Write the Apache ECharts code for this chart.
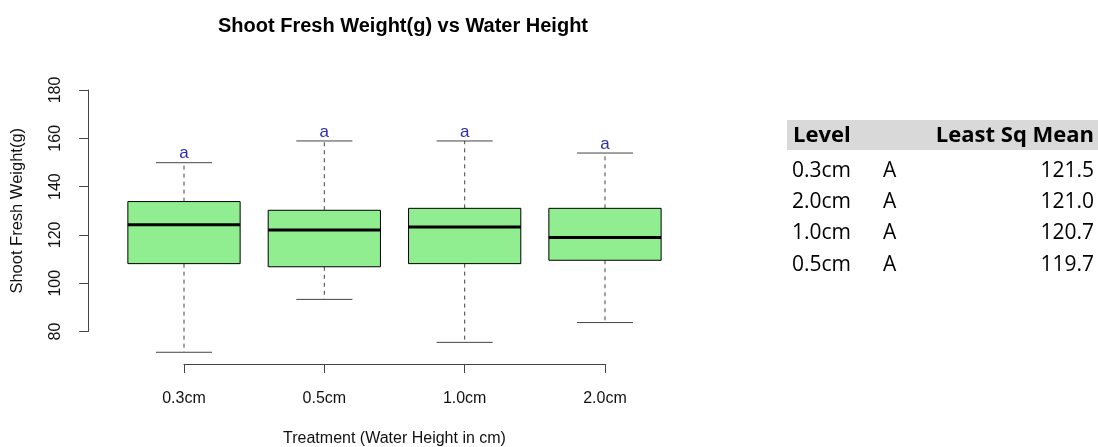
<!DOCTYPE html>
<html><head><meta charset="utf-8">
<script src="https://cdn.jsdelivr.net/npm/echarts@6/dist/echarts.min.js"></script>
<style>html,body{margin:0;padding:0;background:#fff}#c{width:1098px;height:447px}</style>
</head><body><div id="c"></div>
<script>
const categories = ['0.3cm', '0.5cm', '1.0cm', '2.0cm'];
const whiskerLow = [71.4, 93.3, 75.5, 83.7];
const q1 = [108.1, 106.8, 108.1, 109.5];
const median = [124.2, 122.0, 123.3, 118.9];
const q3 = [133.8, 130.2, 131.0, 131.0];
const whiskerHigh = [149.9, 158.9, 158.9, 153.9];
const groupLetters = ['a', 'a', 'a', 'a'];
const yMin = 80, yMax = 180, yStep = 20;
const tableHeader = ['Level', 'Least Sq Mean'];
const tableLevels = ['0.3cm', '2.0cm', '1.0cm', '0.5cm'];
const tableGroups = ['A', 'A', 'A', 'A'];
const tableMeans = ['121.5', '121.0', '120.7', '119.7'];

const boxData = categories.map((c, i) => [i, whiskerLow[i], q1[i], median[i], q3[i], whiskerHigh[i]]);

const AX = '#444';
const FONT = 'Liberation Sans, Arial, sans-serif';
const TFONT = 'Open Sans, Noto Sans, sans-serif';

const tableGraphics = [];
tableGraphics.push({type: 'rect', shape: {x: 787, y: 120, width: 311, height: 30}, style: {fill: '#d9d9d9'}, silent: true});
tableGraphics.push({type: 'text', x: 793, y: 136, style: {text: tableHeader[0], font: 'bold 22px ' + TFONT, fill: '#000', textAlign: 'left', textVerticalAlign: 'middle'}});
tableGraphics.push({type: 'text', x: 1094, y: 136, style: {text: tableHeader[1], font: 'bold 22px ' + TFONT, fill: '#000', textAlign: 'right', textVerticalAlign: 'middle'}});
tableLevels.forEach((lv, i) => {
  const y = 171 + i * 31.2;
  tableGraphics.push({type: 'text', x: 792, y: y, style: {text: lv, font: '21px ' + TFONT, fill: '#000', textAlign: 'left', textVerticalAlign: 'middle'}});
  tableGraphics.push({type: 'text', x: 883, y: y, style: {text: tableGroups[i], font: '21px ' + TFONT, fill: '#000', textAlign: 'left', textVerticalAlign: 'middle'}});
  tableGraphics.push({type: 'text', x: 1094, y: y, style: {text: tableMeans[i], font: '21px ' + TFONT, fill: '#000', textAlign: 'right', textVerticalAlign: 'middle'}});
});
tableGraphics.push({type: 'text', x: 403, y: 26, style: {text: 'Shoot Fresh Weight(g) vs Water Height', font: 'bold 20px ' + FONT, fill: '#000', textAlign: 'center', textVerticalAlign: 'middle'}});

const chart = echarts.init(document.getElementById('c'), null, {renderer: 'canvas'});
chart.setOption({
  backgroundColor: '#fff',
  animation: false,
  grid: [
    {left: 184, top: 90, width: 421, height: 265.65, outerBoundsMode: 'none', containLabel: false},
    {left: 88, top: 90, width: 10, height: 241.5, outerBoundsMode: 'none', containLabel: false}
  ],
  xAxis: [
    {
      type: 'category', gridIndex: 0, data: categories, boundaryGap: false, offset: 8.35,
      axisLine: {lineStyle: {color: AX, width: 1}},
      axisTick: {length: 9, lineStyle: {color: AX}},
      axisLabel: {margin: 27, fontFamily: FONT, fontSize: 16, color: '#111'},
      splitLine: {show: false},
      name: 'Treatment (Water Height in cm)', nameLocation: 'middle', nameGap: 67,
      nameTextStyle: {fontFamily: FONT, fontSize: 16, color: '#111'}
    },
    {type: 'value', gridIndex: 1, show: false, min: 0, max: 1}
  ],
  yAxis: [
    {type: 'value', gridIndex: 0, min: 70, max: 180, show: false},
    {
      type: 'value', gridIndex: 1, min: yMin, max: yMax, interval: yStep,
      axisLine: {show: true, lineStyle: {color: AX, width: 1}},
      axisTick: {show: true, length: 9, lineStyle: {color: AX}},
      axisLabel: {rotate: 90, margin: 24, fontFamily: FONT, fontSize: 16, color: '#111'},
      splitLine: {show: false},
      name: 'Shoot Fresh Weight(g)', nameLocation: 'middle', nameGap: 62,
      nameTextStyle: {fontFamily: FONT, fontSize: 16.5, color: '#111'}
    }
  ],
  series: [{
    type: 'custom',
    xAxisIndex: 0, yAxisIndex: 0,
    data: boxData,
    encode: {x: 0, y: [1, 2, 3, 4, 5]},
    renderItem: function (params, api) {
      const idx = api.value(0);
      const bw = api.size([1, 0])[0] * 0.8;
      const hw = bw / 2, cw = bw / 4;
      const pLo = api.coord([idx, api.value(1)]);
      const pQ1 = api.coord([idx, api.value(2)]);
      const pMd = api.coord([idx, api.value(3)]);
      const pQ3 = api.coord([idx, api.value(4)]);
      const pHi = api.coord([idx, api.value(5)]);
      const x = pLo[0];
      const dash = {stroke: '#444', lineWidth: 1, lineDash: [4, 4]};
      const solid = {stroke: '#444', lineWidth: 1};
      return {
        type: 'group',
        children: [
          {type: 'line', shape: {x1: x, y1: pQ3[1], x2: x, y2: pHi[1]}, style: dash},
          {type: 'line', shape: {x1: x, y1: pQ1[1], x2: x, y2: pLo[1]}, style: dash},
          {type: 'line', shape: {x1: x - cw, y1: pHi[1], x2: x + cw, y2: pHi[1]}, style: solid},
          {type: 'line', shape: {x1: x - cw, y1: pLo[1], x2: x + cw, y2: pLo[1]}, style: solid},
          {type: 'rect', shape: {x: x - hw, y: pQ3[1], width: bw, height: pQ1[1] - pQ3[1]}, style: {fill: '#90EE90', stroke: '#000', lineWidth: 1}},
          {type: 'line', shape: {x1: x - hw, y1: pMd[1], x2: x + hw, y2: pMd[1]}, style: {stroke: '#000', lineWidth: 3}},
          {type: 'text', x: x, y: pHi[1] - 9, style: {text: groupLetters[params.dataIndex], font: '17px ' + FONT, fill: '#2c2cb0', textAlign: 'center', textVerticalAlign: 'middle'}}
        ]
      };
    }
  }],
  graphic: tableGraphics
});
</script>
</body></html>
